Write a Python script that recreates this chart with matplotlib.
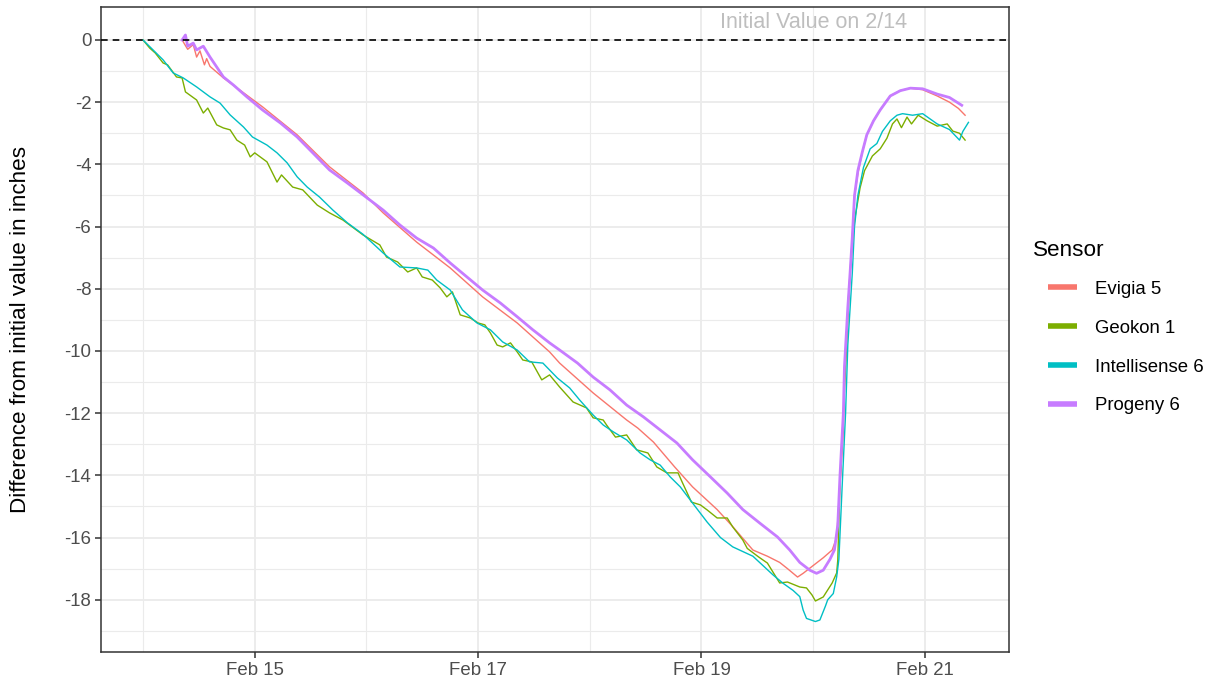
import numpy as np
import pandas as pd
import matplotlib
matplotlib.use("Agg")
import matplotlib.pyplot as plt
import matplotlib.dates as mdates
from matplotlib.lines import Line2D

plt.rcParams['font.family'] = ['Liberation Sans', 'DejaVu Sans']
plt.rcParams['axes.unicode_minus'] = False

# day-of-February (decimal) and difference from initial value (inches)
geokon_day = [14.00, 14.06, 14.11, 14.18, 14.22, 14.30, 14.35, 14.38, 14.48, 14.54, 14.58, 14.66,
              14.72, 14.78, 14.84, 14.91, 14.96, 15.00, 15.11, 15.20, 15.24, 15.34, 15.43, 15.56,
              15.67, 15.79, 15.85, 15.97, 16.12, 16.18, 16.28, 16.37, 16.45, 16.50, 16.59, 16.66,
              16.72, 16.77, 16.84, 16.93, 17.00, 17.06, 17.11, 17.17, 17.22, 17.29, 17.35, 17.40,
              17.48, 17.57, 17.64, 17.73, 17.85, 17.97, 18.03, 18.12, 18.15, 18.23, 18.33, 18.42,
              18.52, 18.60, 18.69, 18.79, 18.83, 18.91, 18.99, 19.05, 19.14, 19.23, 19.28, 19.37,
              19.41, 19.51, 19.59, 19.70, 19.77, 19.88, 19.94, 19.99, 20.02, 20.09, 20.17, 20.21,
              20.22, 20.24, 20.27, 20.30, 20.33, 20.37, 20.42, 20.46, 20.53, 20.60, 20.66, 20.71,
              20.75, 20.79, 20.84, 20.88, 20.94, 21.02, 21.11, 21.20, 21.25, 21.31, 21.36]
geokon_val = [0.00, -0.26, -0.42, -0.74, -0.80, -1.19, -1.22, -1.67, -1.93, -2.35, -2.19, -2.73,
              -2.83, -2.89, -3.22, -3.38, -3.76, -3.63, -3.92, -4.57, -4.34, -4.73, -4.82, -5.31,
              -5.56, -5.79, -5.95, -6.27, -6.59, -6.98, -7.14, -7.46, -7.33, -7.62, -7.72, -7.97,
              -8.26, -8.10, -8.84, -8.94, -9.10, -9.16, -9.42, -9.81, -9.87, -9.74, -10.03, -10.29,
              -10.35, -10.93, -10.77, -11.16, -11.64, -11.83, -12.15, -12.22, -12.38, -12.77, -12.70, -13.18,
              -13.28, -13.73, -13.92, -13.92, -14.24, -14.86, -14.95, -15.11, -15.37, -15.37, -15.66, -16.08,
              -16.35, -16.62, -16.82, -17.46, -17.43, -17.59, -17.62, -17.85, -18.04, -17.91, -17.46, -17.14,
              -16.73, -14.30, -12.00, -9.80, -7.50, -5.80, -4.75, -4.20, -3.73, -3.50, -3.16, -2.70,
              -2.54, -2.82, -2.48, -2.70, -2.42, -2.60, -2.77, -2.70, -2.93, -3.00, -3.22]

intelli_day = [14.00, 14.09, 14.18, 14.27, 14.36, 14.48, 14.60, 14.69, 14.78, 14.90, 14.98, 15.11,
               15.20, 15.29, 15.38, 15.47, 15.58, 15.70, 15.83, 15.97, 16.15, 16.30, 16.45, 16.55,
               16.63, 16.75, 16.86, 16.99, 17.11, 17.22, 17.35, 17.46, 17.58, 17.71, 17.82, 17.91,
               18.03, 18.12, 18.21, 18.33, 18.45, 18.54, 18.63, 18.72, 18.81, 18.92, 19.05, 19.17,
               19.28, 19.37, 19.46, 19.55, 19.64, 19.73, 19.82, 19.88, 19.91, 19.94, 20.02, 20.06,
               20.11, 20.13, 20.18, 20.21, 20.23, 20.26, 20.29, 20.31, 20.35, 20.37, 20.40, 20.45,
               20.51, 20.57, 20.62, 20.69, 20.75, 20.80, 20.89, 20.98, 21.11, 21.22, 21.31, 21.34,
               21.39]
intelli_val = [0.00, -0.32, -0.64, -1.06, -1.22, -1.51, -1.83, -2.03, -2.41, -2.80, -3.12, -3.38,
               -3.63, -3.95, -4.40, -4.73, -5.05, -5.47, -5.88, -6.25, -6.85, -7.30, -7.33, -7.40,
               -7.72, -8.04, -8.68, -9.10, -9.32, -9.71, -9.97, -10.35, -10.39, -10.87, -11.19, -11.58,
               -12.06, -12.38, -12.60, -12.86, -13.28, -13.50, -13.67, -14.05, -14.37, -14.89, -15.50, -16.00,
               -16.30, -16.45, -16.60, -16.90, -17.20, -17.47, -17.70, -17.90, -18.33, -18.60, -18.70, -18.65,
               -18.20, -18.00, -17.80, -17.27, -16.70, -14.30, -12.00, -9.80, -7.50, -6.00, -5.00, -4.10,
               -3.50, -3.33, -2.94, -2.60, -2.42, -2.37, -2.42, -2.37, -2.70, -2.88, -3.22, -2.94,
               -2.65]

evigia_day = [14.35, 14.40, 14.45, 14.48, 14.51, 14.55, 14.57, 14.60, 14.72, 15.07, 15.38, 15.67,
              15.97, 16.15, 16.45, 16.75, 17.04, 17.35, 17.64, 17.73, 18.03, 18.33, 18.43, 18.57,
              18.76, 18.92, 19.14, 19.28, 19.46, 19.59, 19.70, 19.77, 19.86, 19.91, 20.00, 20.09,
              20.17, 20.21, 20.24, 20.27, 20.28, 20.31, 20.33, 20.35, 20.37, 20.40, 20.44, 20.48,
              20.54, 20.60, 20.69, 20.78, 20.87, 20.98, 21.11, 21.22, 21.30, 21.36]
evigia_val = [0.00, -0.30, -0.15, -0.55, -0.35, -0.80, -0.60, -0.85, -1.22, -2.15, -3.05, -4.08,
              -4.92, -5.56, -6.50, -7.33, -8.26, -9.10, -10.03, -10.39, -11.35, -12.22, -12.48, -12.93,
              -13.73, -14.37, -15.10, -15.65, -16.40, -16.60, -16.80, -17.00, -17.27, -17.15, -16.90, -16.65,
              -16.40, -16.00, -14.30, -12.60, -10.90, -8.60, -7.50, -6.35, -5.00, -4.30, -3.60, -3.05,
              -2.60, -2.25, -1.80, -1.63, -1.55, -1.60, -1.80, -2.00, -2.20, -2.42]

progeny_day = [14.35, 14.38, 14.40, 14.45, 14.48, 14.54, 14.60, 14.66, 14.72, 14.81, 14.93, 15.07,
               15.23, 15.38, 15.52, 15.67, 15.83, 15.97, 16.15, 16.30, 16.45, 16.60, 16.75, 16.90,
               17.04, 17.20, 17.35, 17.49, 17.64, 17.73, 17.89, 18.03, 18.18, 18.33, 18.48, 18.63,
               18.78, 18.92, 19.08, 19.23, 19.37, 19.52, 19.68, 19.79, 19.88, 19.97, 20.03, 20.09,
               20.15, 20.19, 20.22, 20.24, 20.27, 20.28, 20.31, 20.33, 20.35, 20.36, 20.37, 20.40,
               20.44, 20.48, 20.54, 20.60, 20.69, 20.78, 20.87, 20.98, 21.11, 21.22, 21.33]
progeny_val = [0.00, 0.16, -0.20, -0.10, -0.32, -0.20, -0.55, -0.87, -1.19, -1.45, -1.83, -2.25,
               -2.67, -3.12, -3.63, -4.18, -4.60, -4.98, -5.47, -5.95, -6.37, -6.69, -7.17, -7.62,
               -8.04, -8.46, -8.90, -9.32, -9.74, -9.97, -10.39, -10.84, -11.25, -11.74, -12.12, -12.54,
               -12.96, -13.50, -14.05, -14.57, -15.10, -15.53, -15.98, -16.40, -16.80, -17.05, -17.15, -17.05,
               -16.70, -16.40, -15.60, -14.00, -12.00, -10.50, -8.60, -7.50, -6.35, -5.67, -5.00, -4.20,
               -3.60, -3.05, -2.60, -2.25, -1.80, -1.63, -1.55, -1.57, -1.74, -1.85, -2.10]

sensor_names = ["Evigia 5", "Geokon 1", "Intellisense 6", "Progeny 6"]
sensor_colors = ["#F8766D", "#7CAE00", "#00BFC4", "#C77CFF"]


def to_time(days):
    return pd.Timestamp("2021-02-01") + pd.to_timedelta(np.array(days) - 1, unit="D")


series = [(evigia_day, evigia_val), (geokon_day, geokon_val),
          (intelli_day, intelli_val), (progeny_day, progeny_val)]
widths = [1.0, 1.0, 1.0, 2.0]

fig = plt.figure(figsize=(12.15, 6.88), dpi=100)
ax = fig.add_axes([101 / 1215, 1 - 652 / 688, 908 / 1215, 645 / 688])

for (d, v), c, w in zip(series, sensor_colors, widths):
    ax.plot(to_time(d), v, color=c, lw=w, zorder=3)

ax.axhline(0, color="black", lw=1.2, ls=(0, (4, 3)), zorder=4)
ax.text(to_time([20.0])[0], 0.55, "Initial Value on 2/14", ha="center", va="center",
        color="#BEBEBE", fontsize=15.5, zorder=5)

ax.set_xlim(to_time([13.624])[0], to_time([21.753])[0])
ax.set_ylim(-19.68, 1.06)
ax.set_yticks(np.arange(-18, 1, 2))
ax.set_yticks(np.arange(-19, 1, 2), minor=True)
ax.xaxis.set_major_locator(mdates.DayLocator(bymonthday=[15, 17, 19, 21]))
ax.xaxis.set_minor_locator(mdates.DayLocator(bymonthday=[14, 16, 18, 20]))
ax.xaxis.set_major_formatter(mdates.DateFormatter("%b %d"))

ax.grid(which="major", color="#EBEBEB", lw=1.3, zorder=0)
ax.grid(which="minor", color="#EBEBEB", lw=0.8, zorder=0)
ax.set_axisbelow(True)
for s in ax.spines.values():
    s.set_color("#333333")
    s.set_linewidth(1.1)
ax.tick_params(which="major", length=4, width=1.1, color="#333333",
               labelcolor="#4D4D4D", labelsize=13.4, pad=3)
ax.tick_params(which="minor", length=0)
ax.set_ylabel("Difference from initial value in inches", fontsize=16.2, color="black")
ax.yaxis.set_label_coords(-0.077, 0.5)

# legend: title drawn separately so it sits left of the keys, as in ggplot
fig.text(1033 / 1215, 1 - 250 / 688, "Sensor", fontsize=16.2, ha="left", va="center")
handles = [Line2D([], [], color=c, lw=4, solid_capstyle="butt") for c in sensor_colors]
leg = fig.legend(handles, sensor_names, loc="center left",
                 bbox_to_anchor=(1031 / 1215, 1 - 347.5 / 688), frameon=False,
                 fontsize=13.4, handlelength=1.55, handletextpad=1.0,
                 labelspacing=1.18)

fig.savefig("out.png", dpi=100)
